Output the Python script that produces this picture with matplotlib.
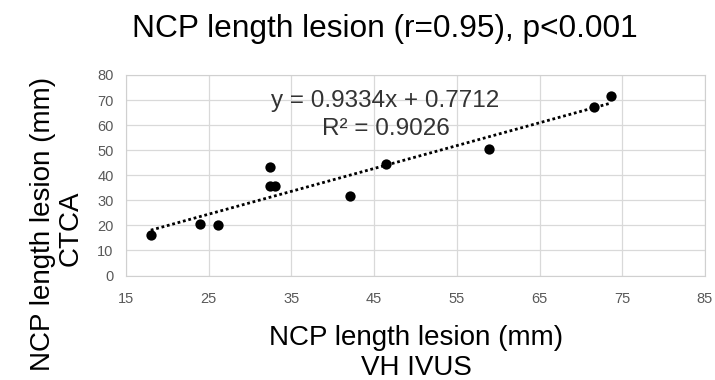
import numpy as np
import matplotlib.pyplot as plt

# values
vh_ivus = [18.0, 24.0, 26.1, 32.4, 32.4, 33.0, 42.1, 46.4, 58.9, 71.6, 73.6]
ctca = [16.0, 20.7, 20.0, 43.1, 35.9, 35.9, 31.6, 44.3, 50.3, 67.1, 71.6]
x_ticks = [15, 25, 35, 45, 55, 65, 75, 85]
y_ticks = [0, 10, 20, 30, 40, 50, 60, 70, 80]
eq_lines = ["y = 0.9334x + 0.7712", "R² = 0.9026"]
title = "NCP length lesion (r=0.95), p<0.001"
xlabel_lines = ["NCP length lesion (mm)", "VH IVUS"]
ylabel_lines = ["NCP length lesion (mm)", "CTCA"]

plt.rcParams['font.family'] = ['Liberation Sans', 'DejaVu Sans']
W, H = 715, 380
fig = plt.figure(figsize=(W / 100, H / 100), dpi=100)
ax = fig.add_axes([126 / W, 1 - 275.5 / H, 579 / W, 200.5 / H])

ax.scatter(vh_ivus, ctca, s=55, color='black', zorder=3, linewidths=0)

# linear trendline across the data range
k, b = np.polyfit(vh_ivus, ctca, 1)
xs = np.array([min(vh_ivus), max(vh_ivus)])
ax.plot(xs, k * xs + b, color='black', linestyle=(0, (1, 1)), linewidth=2,
        dash_capstyle='butt', zorder=2)

ax.set_xlim(15, 85)
ax.set_ylim(0, 80)
ax.set_xticks(x_ticks)
ax.set_yticks(y_ticks)
ax.grid(True, color='#d9d9d9', linewidth=0.9)
ax.set_axisbelow(True)
for s in ax.spines.values():
    s.set_color('#d0d0d0')
ax.tick_params(axis='x', length=0, labelsize=10.5, colors='#595959', pad=12)
ax.tick_params(axis='y', length=0, labelsize=10.5, colors='#595959', pad=9)


def px(x, y):
    return x / W, 1 - y / H


# trendline equation
ax_eq = dict(ha='center', va='baseline', fontsize=17.5, color='#333333')
fig.text(*px(385, 107), eq_lines[0], **ax_eq)
fig.text(*px(386, 135), eq_lines[1], **ax_eq)

fig.text(*px(385, 37), title, ha='center', va='baseline', fontsize=22.8)

fig.text(*px(416, 345), xlabel_lines[0], ha='center', va='baseline', fontsize=20)
fig.text(*px(416, 375), xlabel_lines[1], ha='center', va='baseline', fontsize=20)

fig.text(*px(50, 224), ylabel_lines[0], ha='center', va='baseline', fontsize=20,
         rotation=90, rotation_mode='anchor')
fig.text(*px(78, 228), ylabel_lines[1], ha='center', va='baseline', fontsize=20,
         rotation=90, rotation_mode='anchor')

fig.savefig("out.png", dpi=100)
